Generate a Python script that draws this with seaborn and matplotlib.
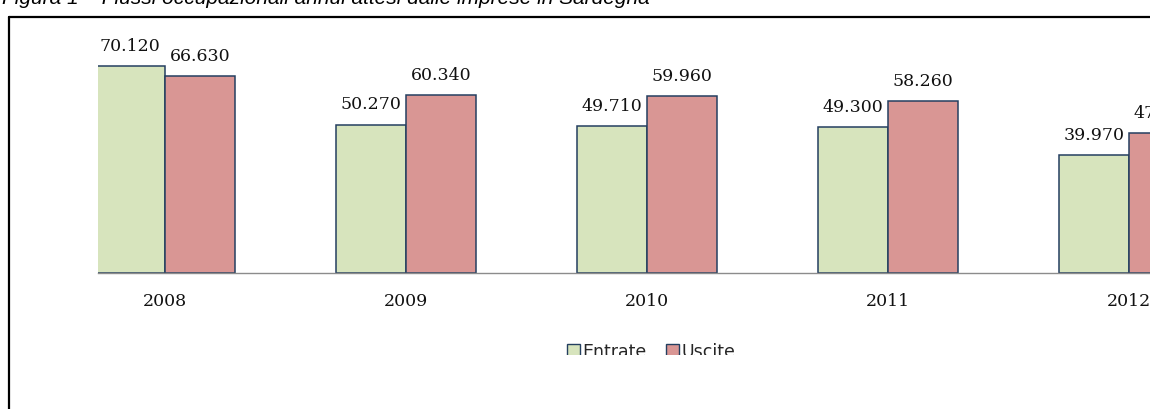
import pandas as pd
import matplotlib
matplotlib.use("Agg")
import matplotlib.pyplot as plt
from matplotlib.patches import Patch, Rectangle
from matplotlib.lines import Line2D
import seaborn as sns

# Dati (flussi occupazionali annui attesi, Sardegna)
anni = ["2008", "2009", "2010", "2011", "2012"]
entrate = [70120, 50270, 49710, 49300, 39970]
uscite = [66630, 60340, 59960, 58260, 47420]
serie = ["Entrate", "Uscite"]
colori = ["#D7E4BD", "#D99694"]
titolo = "Figura 1 \u2013 Flussi occupazionali annui attesi dalle imprese in Sardegna"

df = pd.DataFrame({"anno": anni, "Entrate": entrate, "Uscite": uscite})
df_long = df.melt(id_vars="anno", var_name="flusso", value_name="valore")

sns.set_style("white")

W, H = 1150, 409
fig = plt.figure(figsize=(W / 100, H / 100), dpi=100)

# asse: baseline a y=273 px, categorie ogni 241 px
x0 = -0.28
x1 = 4.5
left_px = 165 + 241 * x0
right_px = 165 + 241 * x1
ymax = 80000
top_px = 273 - 207 / 70120 * ymax
ax = fig.add_axes([left_px / W, (H - 273) / H, (right_px - left_px) / W, (273 - top_px) / H])

sns.barplot(data=df_long, x="anno", y="valore", hue="flusso", order=anni,
            hue_order=serie, palette=colori, saturation=1, width=0.58, gap=0,
            edgecolor="#243F60", linewidth=1.1, ax=ax, legend=False)

# etichette dei valori
for cont in ax.containers:
    vals = [b.get_height() for b in cont]
    ax.bar_label(cont, labels=[f"{int(round(v)):,}".replace(",", ".") for v in vals],
                 padding=8, fontsize=12.5, family="DejaVu Serif", color="#111111")

ax.set_xlim(x0, x1)
ax.set_ylim(0, ymax)
ax.set_xlabel("")
ax.set_ylabel("")
ax.set_yticks([])
for s in ["top", "right", "left"]:
    ax.spines[s].set_visible(False)
ax.spines["bottom"].set_color("#8c8c8c")
ax.spines["bottom"].set_linewidth(1)

ax.set_xticks(range(len(anni)))
ax.set_xticklabels(anni, fontsize=12.5, family="DejaVu Serif", color="#111111")
ax.tick_params(axis="x", which="major", length=0, pad=14.5)
ax.set_xticks([0.5, 1.5, 2.5, 3.5], minor=True)
ax.tick_params(axis="x", which="minor", length=4.5, width=0.8, color="#8c8c8c", direction="out")

# legenda
handles = [Patch(facecolor=c, edgecolor="#243F60", linewidth=1, label=s) for s, c in zip(serie, colori)]
fig.legend(handles=handles, loc="upper center", bbox_to_anchor=(651 / W, 1 - 334 / H),
           ncol=2, frameon=False, handlelength=0.75, handleheight=0.75,
           handletextpad=0.15, columnspacing=1.1, borderpad=0,
           prop={"family": "DejaVu Sans", "size": 12.5})

# ritaglio dell'immagine sotto la legenda
fig.patches.append(Rectangle((10 / W, 0), 1, (H - 355) / H, transform=fig.transFigure,
                             facecolor="white", edgecolor="none", zorder=50))

# cornice del documento
fig.add_artist(Line2D([8.5 / W, 8.5 / W], [0, 1 - 16.5 / H], transform=fig.transFigure,
                      color="black", linewidth=1.6, zorder=60))
fig.add_artist(Line2D([8.5 / W, 1], [1 - 16.5 / H, 1 - 16.5 / H], transform=fig.transFigure,
                      color="black", linewidth=1.6, zorder=60))

# titolo (tagliato in alto)
fig.text(2 / W, 1 - 3.5 / H, titolo, fontsize=15, style="italic", family="Liberation Sans",
         va="baseline", ha="left", color="black")

fig.savefig("out.png", dpi=100)
